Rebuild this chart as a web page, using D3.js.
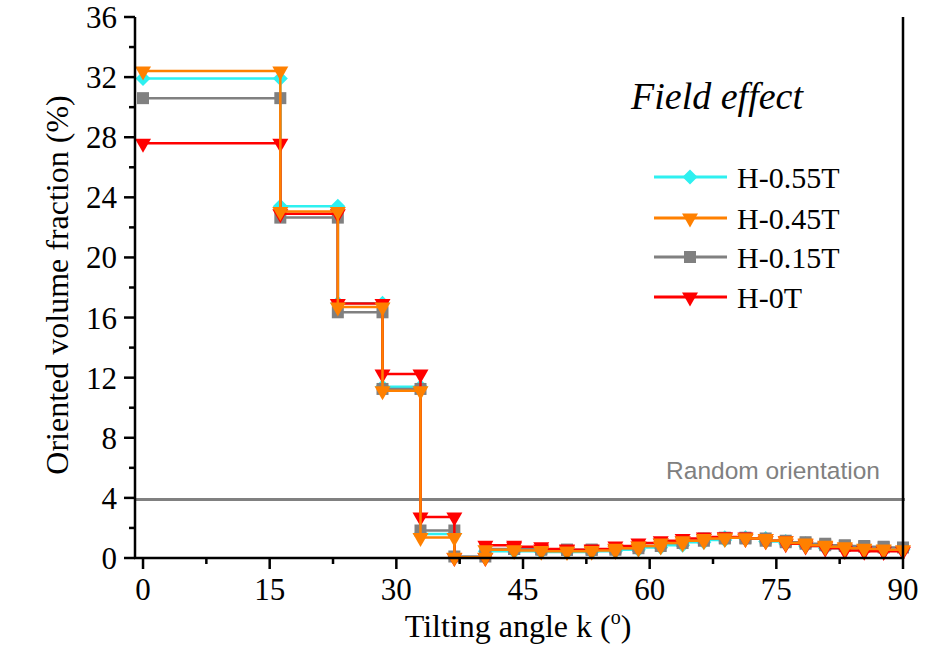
<!DOCTYPE html>
<html>
<head>
<meta charset="utf-8">
<script src="https://cdn.jsdelivr.net/npm/d3@7/dist/d3.min.js"></script>
<style>
  body { margin: 0; background: #fff; }
  svg { display: block; }
</style>
</head>
<body>
<div class="chart"></div>
<script>
// bin edges of tilting angle (deg)
const edges = [0, 16.26, 23.07, 28.36, 32.86, 36.87, 40.54, 43.95, 47.16, 50.21, 53.13, 55.94,
  58.67, 61.31, 63.90, 66.42, 68.90, 71.34, 73.74, 76.11, 78.46, 80.79, 83.11, 85.41, 87.71, 90];

// oriented volume fraction per bin (%)
const h055 = [31.9, 23.4, 16.95, 11.4, 1.6, 0.03, 0.45, 0.45, 0.4, 0.4, 0.45, 0.55, 0.7, 0.85,
  1.05, 1.2, 1.35, 1.3, 1.1, 0.95, 0.8, 0.65, 0.6, 0.6, 0.55];
const h045 = [32.4, 23.05, 16.7, 11.13, 1.37, 0.05, 0.55, 0.5, 0.45, 0.45, 0.5, 0.65, 0.8, 1.0,
  1.15, 1.3, 1.35, 1.3, 1.15, 1.0, 0.85, 0.75, 0.65, 0.6, 0.55];
const h015 = [30.6, 22.65, 16.35, 11.25, 1.83, 0.1, 0.6, 0.6, 0.55, 0.55, 0.55, 0.65, 0.8, 1.0,
  1.15, 1.3, 1.35, 1.3, 1.15, 1.05, 0.95, 0.85, 0.8, 0.75, 0.7];
const h0 = [27.6, 22.9, 16.93, 12.25, 2.73, 0.03, 0.85, 0.75, 0.6, 0.55, 0.6, 0.8, 1.0, 1.15,
  1.3, 1.4, 1.4, 1.3, 1.15, 0.95, 0.8, 0.65, 0.5, 0.45, 0.45];

const seriesNames = ['H-0.55T', 'H-0.45T', 'H-0.15T', 'H-0T'];
const randomLevel = 3.9;

const xTicks = [0, 15, 30, 45, 60, 75, 90];
const yTicks = [0, 4, 8, 12, 16, 20, 24, 28, 32, 36];

const W = 929, H = 646;
const svg = d3.select('.chart').append('svg').attr('width', W).attr('height', H);

const x = d3.scaleLinear().domain([-0.95, 90]).range([135, 903]);
const y = d3.scaleLinear().domain([0, 36]).range([558, 17]);

const serif = '"Liberation Serif", "DejaVu Serif", serif';

const series = [
  { name: seriesNames[0], vals: h055, color: '#2ef0f0', sym: 'diamond' },
  { name: seriesNames[1], vals: h045, color: '#ff8000', sym: 'tri' },
  { name: seriesNames[2], vals: h015, color: '#808080', sym: 'square' },
  { name: seriesNames[3], vals: h0, color: '#ff0000', sym: 'tri' }
];

const markerPath = (sym) => {
  if (sym === 'diamond') return 'M0,-7.5L7.5,0L0,7.5L-7.5,0Z';
  if (sym === 'square') return 'M-6,-6H6V6H-6Z';
  return 'M-8,-4.5H8L0,9.5Z';
};

// random orientation reference
svg.append('line')
  .attr('x1', x(-0.95)).attr('x2', 905)
  .attr('y1', y(randomLevel)).attr('y2', y(randomLevel))
  .attr('stroke', '#808080').attr('stroke-width', 3);
svg.append('text')
  .attr('x', 773).attr('y', 479)
  .attr('text-anchor', 'middle')
  .attr('font-family', '"Liberation Sans", Arial, sans-serif')
  .attr('font-size', 24.5).attr('fill', '#808080')
  .text('Random orientation');

const line = d3.line().x(d => x(d[0])).y(d => y(d[1]));

// draw order: cyan, gray, red, orange on top
const order = [0, 2, 3, 1];
order.forEach(k => {
  const s = series[k];
  const pts = [];
  s.vals.forEach((v, i) => {
    pts.push([edges[i], v]);
    pts.push([edges[i + 1], v]);
  });
  const g = svg.append('g');
  g.append('path')
    .attr('d', line(pts))
    .attr('fill', 'none')
    .attr('stroke', s.color)
    .attr('stroke-width', 2.5);
  g.selectAll('path.m')
    .data(pts)
    .enter()
    .append('path')
    .attr('class', 'm')
    .attr('d', markerPath(s.sym))
    .attr('transform', d => 'translate(' + x(d[0]) + ',' + y(d[1]) + ')')
    .attr('fill', s.color);
});

// axes
const axes = svg.append('g').attr('stroke', '#000').attr('stroke-width', 2.5);
axes.append('line').attr('x1', 135).attr('x2', 135).attr('y1', 17).attr('y2', 559);
axes.append('line').attr('x1', 134).attr('x2', 904).attr('y1', 558).attr('y2', 558);
axes.append('line').attr('x1', 903).attr('x2', 903).attr('y1', 17).attr('y2', 559);

const yMinor = d3.range(2, 36, 4);
axes.selectAll('line.ym').data(yTicks).enter().append('line')
  .attr('x1', 124).attr('x2', 135).attr('y1', d => y(d)).attr('y2', d => y(d));
axes.selectAll('line.yn').data(yMinor).enter().append('line')
  .attr('x1', 129).attr('x2', 135).attr('y1', d => y(d)).attr('y2', d => y(d));

const xMinor = d3.range(7.5, 90, 15);
axes.selectAll('line.xm').data(xTicks).enter().append('line')
  .attr('x1', d => x(d)).attr('x2', d => x(d)).attr('y1', 558).attr('y2', 569);
axes.selectAll('line.xn').data(xMinor).enter().append('line')
  .attr('x1', d => x(d)).attr('x2', d => x(d)).attr('y1', 558).attr('y2', 564);

svg.selectAll('text.yt').data(yTicks).enter().append('text')
  .attr('x', 117).attr('y', d => y(d) + 11)
  .attr('text-anchor', 'end')
  .attr('font-family', serif).attr('font-size', 31)
  .text(d => d);

svg.selectAll('text.xt').data(xTicks).enter().append('text')
  .attr('x', d => x(d)).attr('y', 600)
  .attr('text-anchor', 'middle')
  .attr('font-family', serif).attr('font-size', 31)
  .text(d => d);

// axis titles
const xt = svg.append('text')
  .attr('x', 518).attr('y', 637)
  .attr('text-anchor', 'middle')
  .attr('font-family', serif).attr('font-size', 32);
xt.append('tspan').text('Tilting angle k (');
xt.append('tspan').attr('dy', -13).attr('font-size', 20).text('o');
xt.append('tspan').attr('dy', 13).text(')');

svg.append('text')
  .attr('transform', 'translate(68,285) rotate(-90)')
  .attr('text-anchor', 'middle')
  .attr('font-family', serif).attr('font-size', 32)
  .text('Oriented volume fraction (%)');

svg.append('text')
  .attr('x', 717).attr('y', 109)
  .attr('text-anchor', 'middle')
  .attr('font-family', serif).attr('font-size', 38)
  .attr('font-style', 'italic')
  .text('Field effect');

// legend
const legend = svg.append('g');
const rows = [177, 218, 257, 297];
series.forEach((s, i) => {
  const gy = rows[i];
  legend.append('line')
    .attr('x1', 654).attr('x2', 727).attr('y1', gy).attr('y2', gy)
    .attr('stroke', s.color).attr('stroke-width', 3);
  legend.append('path')
    .attr('d', markerPath(s.sym))
    .attr('transform', 'translate(690,' + gy + ')')
    .attr('fill', s.color);
  legend.append('text')
    .attr('x', 737).attr('y', gy + 11)
    .attr('font-family', serif).attr('font-size', 30)
    .text(s.name);
});
</script>
</body>
</html>
